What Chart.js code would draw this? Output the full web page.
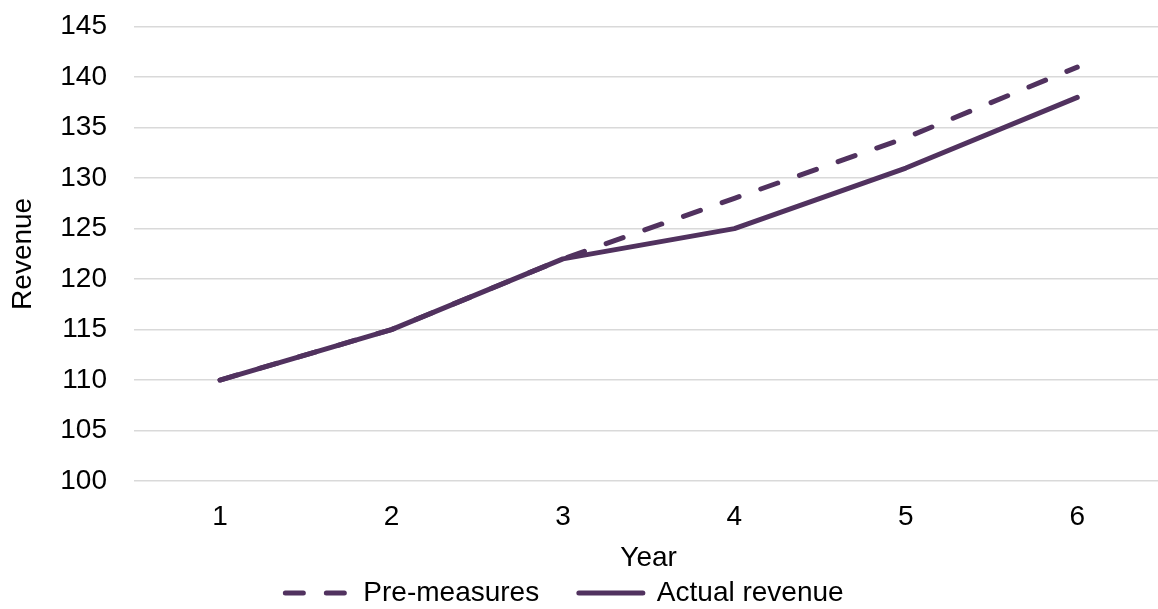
<!DOCTYPE html>
<html>
<head>
<meta charset="utf-8">
<title>Revenue by year</title>
<script src="https://cdn.jsdelivr.net/npm/chart.js@4"></script>
<style>
  html, body { margin: 0; padding: 0; background: #fff; overflow: hidden; }
  #wrap { position: relative; width: 1163px; height: 609px; }
</style>
</head>
<body>
<div id="wrap"><canvas id="chart"></canvas></div>
<script>
// Years on the horizontal axis
const years = ['1', '2', '3', '4', '5', '6'];
// Revenue projected before the measures were introduced
const preMeasures = [110, 115, 122, 128, 134, 141];
// Revenue actually achieved
const actualRevenue = [110, 115, 122, 125, 131, 138];
// Revenue axis range and step
const yMin = 100, yMax = 145, yStep = 5;

const purple = '#51325F';
const gridGray = '#d9d9d9';
const lineWidth = 5;

Chart.defaults.font.family = "'Liberation Sans', Arial, sans-serif";
Chart.defaults.font.size = 28;
Chart.defaults.color = '#000';

new Chart(document.getElementById('chart'), {
  type: 'line',
  data: {
    labels: years,
    datasets: [
      {
        label: 'Pre-measures',
        data: preMeasures,
        borderColor: purple,
        backgroundColor: purple,
        borderWidth: lineWidth,
        borderDash: [18, 23],
        borderCapStyle: 'round',
        pointRadius: 0,
        pointHoverRadius: 0,
        tension: 0,
        fill: false
      },
      {
        label: 'Actual revenue',
        data: actualRevenue,
        borderColor: purple,
        backgroundColor: purple,
        borderWidth: lineWidth,
        borderCapStyle: 'round',
        borderJoinStyle: 'round',
        pointRadius: 0,
        pointHoverRadius: 0,
        tension: 0,
        fill: false
      }
    ]
  },
  options: {
    responsive: true,
    maintainAspectRatio: false,
    animation: false,
    devicePixelRatio: 1,
    layout: { padding: { left: -34, top: 26.7, right: 0, bottom: -8 } },
    plugins: {
      tooltip: { enabled: false },
      legend: {
        position: 'bottom',
        labels: {
          usePointStyle: true,
          pointStyleWidth: 64,
          padding: 39.7,
          font: { size: 28 },
          color: '#000',
          // line samples carry each dataset's own stroke and dash
          generateLabels: (chart) => chart.data.datasets.map((ds, i) => ({
            text: ds.label,
            datasetIndex: i,
            hidden: !chart.isDatasetVisible(i),
            pointStyle: 'line',
            strokeStyle: ds.borderColor,
            fillStyle: ds.backgroundColor,
            lineWidth: ds.borderWidth,
            lineDash: ds.borderDash || [],
            lineDashOffset: 0,
            lineCap: 'round',
            fontColor: '#000'
          }))
        }
      }
    },
    scales: {
      x: {
        offset: true,
        grid: { display: false, drawTicks: false },
        border: { display: false },
        ticks: { padding: 19.2, font: { size: 28 }, maxRotation: 0 },
        title: { display: true, text: 'Year', font: { size: 28 }, padding: { top: 0, bottom: -35.5 } },
        afterFit: (s) => { s.height = 58.3; }
      },
      y: {
        min: yMin,
        max: yMax,
        // invisible tick marks keep the labels clear of the plot edge
        grid: { color: gridGray, lineWidth: 1.5, drawTicks: true, tickLength: 27.3, tickColor: 'rgba(0,0,0,0)' },
        border: { display: false },
        ticks: { stepSize: yStep, padding: 0, font: { size: 28 } },
        title: { display: true, text: 'Revenue', font: { size: 28 }, padding: { top: 40.2, bottom: 0 } },
        afterFit: (s) => { s.width = 168.3; }
      }
    }
  }
});
</script>
</body>
</html>
